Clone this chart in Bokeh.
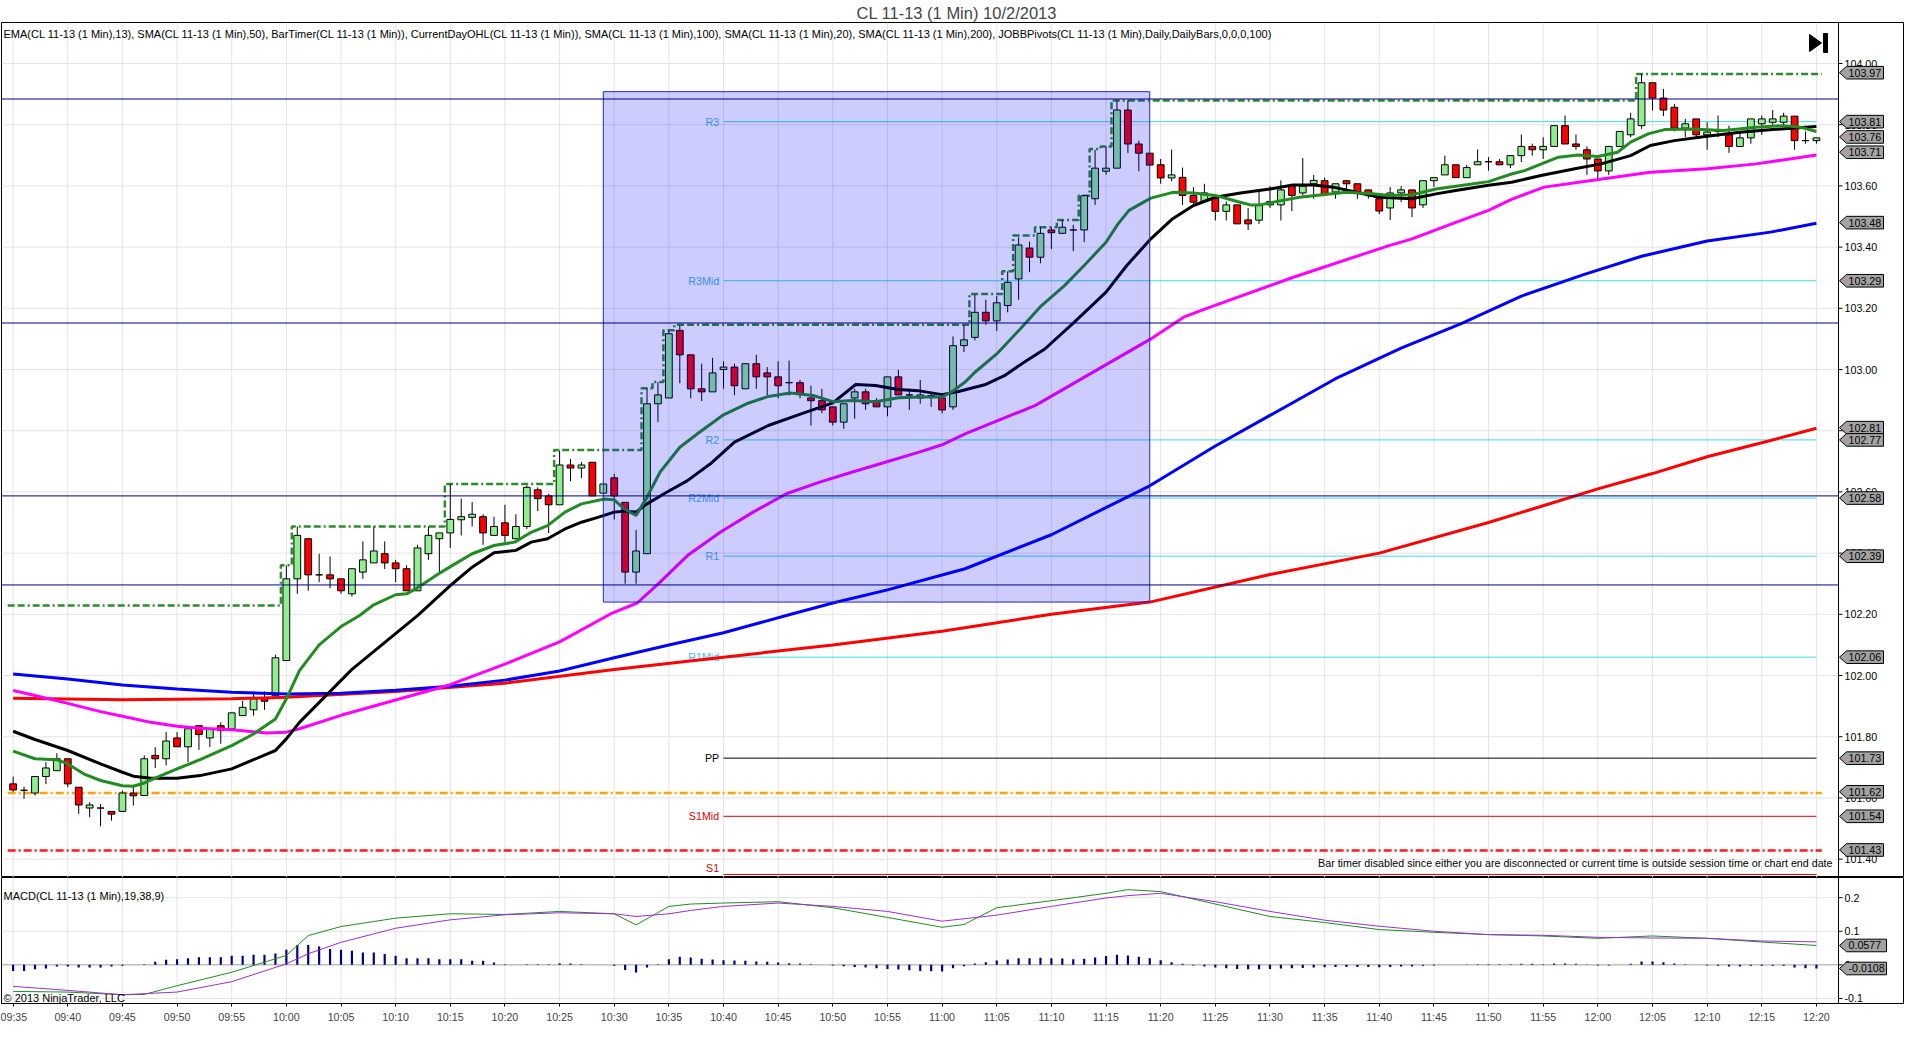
import numpy as np
from bokeh.plotting import figure
from bokeh.layouts import column
from bokeh.models import Range1d, FixedTicker, Label
from bokeh.embed import file_html
from bokeh.resources import INLINE
from bokeh.core.properties import value

FONT = "Liberation Sans"

# ---------------- data ----------------
time_ticks = list(range(0, 166, 5))
time_labels = ["09:35", "09:40", "09:45", "09:50", "09:55", "10:00", "10:05", "10:10", "10:15", "10:20",
               "10:25", "10:30", "10:35", "10:40", "10:45", "10:50", "10:55", "11:00", "11:05", "11:10",
               "11:15", "11:20", "11:25", "11:30", "11:35", "11:40", "11:45", "11:50", "11:55", "12:00",
               "12:05", "12:10", "12:15", "12:20"]

bar_open = [101.646, 101.625, 101.616, 101.670, 101.689, 101.728, 101.635, 101.567, 101.567, 101.556,
            101.556, 101.616, 101.608, 101.739, 101.728, 101.796, 101.767, 101.836, 101.796, 101.836,
            101.826, 101.869, 101.888, 101.924, 101.934, 102.049, 102.316, 102.447, 102.329, 102.329,
            102.316, 102.267, 102.338, 102.368, 102.398, 102.368, 102.349, 102.277, 102.398, 102.447,
            102.466, 102.509, 102.517, 102.519, 102.458, 102.499, 102.447, 102.487, 102.607, 102.587,
            102.558, 102.688, 102.678, 102.697, 102.596, 102.646, 102.566, 102.338, 102.398, 102.888,
            102.907, 103.128, 103.048, 102.937, 102.927, 103.000, 103.008, 102.937, 103.019, 102.989,
            102.976, 102.957, 102.957, 102.907, 102.898, 102.878, 102.828, 102.907, 102.927, 102.898,
            102.878, 102.976, 102.917, 102.907, 102.915, 102.907, 102.878, 103.078, 103.105, 103.187,
            103.159, 103.209, 103.296, 103.397, 103.367, 103.456, 103.445, 103.456, 103.456, 103.558,
            103.648, 103.658, 103.848, 103.737, 103.707, 103.669, 103.626, 103.628, 103.569, 103.549,
            103.560, 103.517, 103.538, 103.489, 103.488, 103.538, 103.538, 103.599, 103.577, 103.607,
            103.617, 103.580, 103.617, 103.607, 103.587, 103.558, 103.528, 103.577, 103.587, 103.538,
            103.617, 103.636, 103.669, 103.627, 103.669, 103.679, 103.679, 103.669, 103.699, 103.729,
            103.718, 103.729, 103.797, 103.737, 103.718, 103.688, 103.649, 103.729, 103.767, 103.797,
            103.937, 103.887, 103.857, 103.789, 103.819, 103.767, 103.778, 103.767, 103.729, 103.757,
            103.803, 103.808, 103.808, 103.828, 103.748, 103.748]
bar_high = [101.670, 101.637, 101.670, 101.717, 101.746, 101.728, 101.635, 101.586, 101.580, 101.556,
            101.624, 101.643, 101.739, 101.766, 101.815, 101.815, 101.836, 101.836, 101.826, 101.847,
            101.878, 101.918, 101.948, 101.948, 102.068, 102.360, 102.487, 102.447, 102.398, 102.389,
            102.316, 102.349, 102.438, 102.487, 102.438, 102.378, 102.360, 102.427, 102.487, 102.466,
            102.626, 102.578, 102.567, 102.527, 102.519, 102.558, 102.527, 102.621, 102.615, 102.594,
            102.735, 102.708, 102.698, 102.697, 102.626, 102.659, 102.566, 102.476, 102.939, 102.959,
            103.128, 103.144, 103.048, 103.019, 103.038, 103.027, 103.019, 103.019, 103.048, 103.008,
            103.027, 103.029, 102.966, 102.947, 102.937, 102.878, 102.888, 102.937, 102.937, 102.907,
            102.976, 102.999, 102.937, 102.966, 102.920, 102.907, 103.108, 103.144, 103.244, 103.228,
            103.240, 103.321, 103.432, 103.418, 103.465, 103.465, 103.489, 103.473, 103.568, 103.718,
            103.729, 103.879, 103.879, 103.748, 103.707, 103.688, 103.719, 103.660, 103.596, 103.607,
            103.560, 103.549, 103.538, 103.528, 103.588, 103.599, 103.618, 103.599, 103.691, 103.636,
            103.627, 103.607, 103.617, 103.607, 103.587, 103.558, 103.596, 103.599, 103.587, 103.617,
            103.627, 103.699, 103.669, 103.669, 103.719, 103.694, 103.688, 103.699, 103.768, 103.738,
            103.759, 103.797, 103.830, 103.768, 103.729, 103.688, 103.729, 103.778, 103.839, 103.966,
            103.937, 103.917, 103.868, 103.819, 103.819, 103.808, 103.830, 103.797, 103.776, 103.819,
            103.830, 103.848, 103.839, 103.828, 103.778, 103.757]
bar_low = [101.620, 101.597, 101.608, 101.645, 101.689, 101.635, 101.548, 101.537, 101.507, 101.526,
           101.556, 101.575, 101.608, 101.698, 101.706, 101.767, 101.717, 101.757, 101.766, 101.777,
           101.826, 101.869, 101.869, 101.888, 101.934, 102.049, 102.267, 102.277, 102.305, 102.285,
           102.267, 102.258, 102.316, 102.368, 102.348, 102.305, 102.277, 102.277, 102.378, 102.338,
           102.417, 102.458, 102.487, 102.427, 102.458, 102.436, 102.447, 102.479, 102.537, 102.466,
           102.558, 102.635, 102.645, 102.587, 102.596, 102.510, 102.300, 102.300, 102.398, 102.828,
           102.907, 102.955, 102.906, 102.897, 102.927, 102.937, 102.916, 102.937, 102.937, 102.916,
           102.906, 102.915, 102.906, 102.817, 102.857, 102.817, 102.806, 102.839, 102.868, 102.878,
           102.847, 102.917, 102.868, 102.888, 102.878, 102.857, 102.868, 103.057, 103.095, 103.146,
           103.126, 103.187, 103.228, 103.318, 103.347, 103.394, 103.445, 103.387, 103.416, 103.538,
           103.637, 103.658, 103.707, 103.648, 103.668, 103.607, 103.615, 103.538, 103.538, 103.549,
           103.487, 103.487, 103.476, 103.456, 103.476, 103.528, 103.487, 103.518, 103.569, 103.558,
           103.571, 103.558, 103.590, 103.558, 103.558, 103.508, 103.488, 103.547, 103.498, 103.528,
           103.597, 103.636, 103.627, 103.627, 103.669, 103.650, 103.669, 103.658, 103.678, 103.699,
           103.688, 103.729, 103.737, 103.718, 103.636, 103.623, 103.636, 103.729, 103.759, 103.786,
           103.846, 103.828, 103.778, 103.759, 103.759, 103.718, 103.759, 103.708, 103.729, 103.738,
           103.767, 103.797, 103.797, 103.718, 103.738, 103.738]
bar_close = [101.626, 101.625, 101.670, 101.698, 101.728, 101.646, 101.577, 101.577, 101.567, 101.547,
             101.616, 101.607, 101.728, 101.728, 101.786, 101.767, 101.826, 101.807, 101.826, 101.820,
             101.878, 101.896, 101.924, 101.916, 102.058, 102.316, 102.458, 102.329, 102.329, 102.316,
             102.277, 102.349, 102.378, 102.407, 102.368, 102.349, 102.277, 102.417, 102.458, 102.466,
             102.510, 102.519, 102.527, 102.466, 102.487, 102.458, 102.487, 102.615, 102.578, 102.558,
             102.688, 102.678, 102.688, 102.587, 102.626, 102.587, 102.338, 102.407, 102.888, 102.917,
             103.117, 103.048, 102.937, 102.927, 102.989, 103.008, 102.947, 103.019, 102.976, 102.976,
             102.947, 102.957, 102.919, 102.898, 102.868, 102.828, 102.888, 102.927, 102.888, 102.878,
             102.976, 102.917, 102.917, 102.917, 102.915, 102.868, 103.078, 103.097, 103.187, 103.159,
             103.218, 103.285, 103.407, 103.367, 103.445, 103.447, 103.465, 103.456, 103.568, 103.658,
             103.658, 103.848, 103.737, 103.707, 103.668, 103.626, 103.636, 103.569, 103.547, 103.577,
             103.517, 103.538, 103.476, 103.476, 103.536, 103.549, 103.587, 103.569, 103.599, 103.618,
             103.571, 103.607, 103.607, 103.580, 103.577, 103.518, 103.577, 103.587, 103.528, 103.617,
             103.627, 103.669, 103.627, 103.660, 103.679, 103.679, 103.669, 103.699, 103.729, 103.718,
             103.729, 103.797, 103.737, 103.729, 103.688, 103.649, 103.729, 103.778, 103.819, 103.937,
             103.887, 103.848, 103.789, 103.803, 103.767, 103.776, 103.778, 103.729, 103.757, 103.819,
             103.819, 103.819, 103.828, 103.748, 103.748, 103.757]

# moving averages, (bar, price) samples
ema13 = [(0, 101.753), (2, 101.728), (4, 101.725), (5, 101.711), (6.5, 101.678), (8, 101.657), (10, 101.640),
         (11, 101.638), (12, 101.649), (13.2, 101.668), (15, 101.695), (17.1, 101.725), (20, 101.771),
         (22, 101.809), (24, 101.858), (25, 101.924), (26.2, 102.016), (28, 102.10), (30, 102.16),
         (31.7, 102.196), (32.9, 102.229), (35, 102.264), (36, 102.267), (37.1, 102.289), (38.9, 102.332),
         (40.2, 102.36), (42, 102.398), (44, 102.425), (45.9, 102.436), (47.4, 102.468), (48.9, 102.49),
         (50.5, 102.534), (52, 102.561), (54.1, 102.577), (55, 102.574), (55.9, 102.545), (57, 102.523),
         (58, 102.583), (59.2, 102.665), (61, 102.746), (62.8, 102.795), (65, 102.852), (67.1, 102.888),
         (69.1, 102.912), (71.1, 102.923), (73.2, 102.915), (75, 102.895), (76.8, 102.899), (78.9, 102.895),
         (81, 102.908), (83.1, 102.910), (85, 102.910), (86, 102.93), (87.1, 102.959), (88, 102.991),
         (90, 103.051), (92, 103.127), (94.1, 103.209), (96.2, 103.274), (98, 103.34), (100, 103.416),
         (101.1, 103.476), (102.1, 103.52), (104.1, 103.56), (106.1, 103.579), (108, 103.577), (110, 103.569),
         (112, 103.549), (113.2, 103.538), (114.1, 103.538), (115.3, 103.547), (117.7, 103.563),
         (119.8, 103.571), (122, 103.579), (124.4, 103.574), (125.9, 103.569), (128, 103.571), (130.2, 103.59),
         (132, 103.599), (135, 103.614), (137.1, 103.639), (138.3, 103.650), (141.4, 103.694), (143.2, 103.701),
         (145, 103.696), (146.8, 103.710), (148, 103.743), (149.6, 103.77), (151.1, 103.784), (153.5, 103.786),
         (156.5, 103.781), (159.5, 103.792), (162, 103.797), (163.5, 103.792), (165, 103.778)]
sma20 = [(0, 101.818), (2, 101.791), (5, 101.755), (8, 101.711), (10, 101.684), (11, 101.671), (12.6, 101.664),
         (15, 101.664), (17.1, 101.673), (20, 101.695), (22, 101.725), (24, 101.755), (25, 101.793),
         (26.2, 101.847), (31, 102.02), (37, 102.196), (40.2, 102.30), (42, 102.354), (44, 102.401), (46, 102.409),
         (47.4, 102.436), (48.9, 102.447), (50.5, 102.479), (52, 102.501), (53.5, 102.517), (55, 102.534),
         (55.9, 102.537), (57, 102.534), (58, 102.561), (59.8, 102.599), (61.7, 102.637), (63.8, 102.692),
         (66, 102.763), (69.1, 102.817), (72.1, 102.855), (75, 102.891), (77.1, 102.951), (78.9, 102.948),
         (81, 102.935), (82.8, 102.931), (85, 102.918), (86.5, 102.928), (88.9, 102.95), (90.7, 102.98),
         (92.5, 103.024), (94.4, 103.067), (97.1, 103.155), (100, 103.253), (101.9, 103.34), (104.1, 103.427),
         (106.1, 103.493), (108, 103.536), (110, 103.563), (112.3, 103.577), (115, 103.59), (117.1, 103.603),
         (119, 103.603), (120.8, 103.596), (122.9, 103.579), (125, 103.563), (128, 103.558), (130.2, 103.574),
         (132, 103.585), (135, 103.602), (137.1, 103.612), (139.8, 103.634), (142.9, 103.656), (145.3, 103.672),
         (148, 103.699), (149.8, 103.732), (152, 103.748), (155, 103.762), (158, 103.775), (161, 103.784),
         (165, 103.794)]
sma50 = [(0, 101.951), (2, 101.935), (5, 101.909), (8, 101.882), (10, 101.867), (12.6, 101.847), (15, 101.834),
         (17.1, 101.828), (20, 101.823), (23.2, 101.812), (25, 101.815), (26.2, 101.826), (30, 101.87),
         (35, 101.92), (40, 101.97), (45, 102.037), (50, 102.11), (54.7, 102.202), (57.1, 102.237),
         (59.2, 102.305), (61.7, 102.392), (64.7, 102.468), (67.7, 102.534), (70.75, 102.594), (73.8, 102.632),
         (76.8, 102.665), (79.8, 102.697), (82.9, 102.730), (85, 102.754), (87.1, 102.790), (93.5, 102.882),
         (104.1, 103.100), (107.1, 103.171), (108.9, 103.196), (117, 103.30), (125.9, 103.405), (128, 103.427),
         (132, 103.481), (135, 103.52), (137.1, 103.556), (140.1, 103.596), (144.4, 103.618), (149.8, 103.645),
         (155, 103.656), (159.5, 103.672), (165, 103.701)]
sma100 = [(0, 102.005), (5, 101.989), (10, 101.969), (15, 101.956), (20, 101.945), (25, 101.940), (30, 101.942),
          (35, 101.952), (40, 101.965), (45, 101.985), (50, 102.015), (55, 102.058), (60, 102.10), (65, 102.14),
          (70.75, 102.196), (75, 102.237), (80, 102.28), (87.1, 102.349), (95, 102.46), (104, 102.62),
          (110, 102.75), (115, 102.85), (121, 102.97), (127, 103.07), (132.5, 103.15), (138, 103.24),
          (143.7, 103.31), (149, 103.37), (155, 103.42), (160.8, 103.449), (165, 103.478)]
sma200 = [(0, 101.926), (10, 101.921), (20, 101.924), (25, 101.929), (35, 101.948), (45, 101.975), (55, 102.02),
          (65, 102.06), (75, 102.10), (85, 102.145), (95, 102.20), (104, 102.24), (115, 102.33), (125, 102.40),
          (135, 102.50), (140, 102.555), (145, 102.61), (150, 102.66), (155, 102.715), (160.8, 102.768),
          (165, 102.808)]

# CurrentDayOHL: running day high (step starts) and the open / low levels
day_high_x = [-0.5, 24.5, 25.5, 39.5, 49.5, 57.5, 58.5, 59.5, 60.5, 87.5, 90.5, 91.5, 93.5, 95.5, 97.5,
              98.5, 99.5, 100.5, 148.5, 165.5]
day_high_y = [102.229, 102.36, 102.487, 102.626, 102.737, 102.939, 102.959, 103.128, 103.146, 103.247,
              103.321, 103.438, 103.465, 103.489, 103.568, 103.721, 103.729, 103.879, 103.966, 103.966]
day_open = 101.616
day_low = 101.428

# JOBB pivots
pivot_names = ["R3", "R3Mid", "R2", "R2Mid", "R1", "R1Mid", "PP", "S1Mid", "S1"]
pivot_levels = [103.81, 103.29, 102.77, 102.58, 102.39, 102.06, 101.73, 101.54, 101.35]
pivot_colors = ["#3CDCE6"] * 6 + ["black", "#DD0000", "#DD0000"]
pivot_text_colors = ["#3FB4FF"] * 6 + ["black", "#DD0000", "#DD0000"]

# drawing objects: horizontal lines and the shaded rectangle
hlines = [103.884, 103.152, 102.587, 102.296]
rect_bars = [54, 104]
rect_prices = [102.24, 103.908]

# right-axis price markers
price_markers = [103.97, 103.81, 103.76, 103.71, 103.48, 103.29, 102.81, 102.77, 102.58, 102.39,
                 102.06, 101.73, 101.62, 101.54, 101.43]
price_ticks = [101.4, 101.6, 101.8, 102.0, 102.2, 102.4, 102.6, 102.8, 103.0, 103.2, 103.4, 103.6, 103.8, 104.0]
price_tick_labels = ["101.40", "101.60", "101.80", "102.00", "102.20", "102.40", "102.60", "102.80",
                     "103.00", "103.20", "103.40", "103.60", "103.80", "104.00"]

# MACD(19,38,9)
macd_line = [(0, -0.079), (5, -0.081), (10, -0.089), (12, -0.088), (15, -0.062), (20, -0.022), (25, 0.028),
             (27, 0.087), (30, 0.114), (35, 0.139), (40, 0.152), (45, 0.150), (50, 0.159), (55, 0.152),
             (57, 0.119), (60, 0.174), (62, 0.181), (65, 0.184), (70, 0.188), (75, 0.17), (80, 0.141),
             (85, 0.112), (87, 0.12), (90, 0.170), (95, 0.191), (100, 0.213), (102, 0.224), (105, 0.218),
             (110, 0.181), (115, 0.144), (120, 0.126), (125, 0.105), (130, 0.097), (135, 0.09), (140, 0.086),
             (145, 0.079), (150, 0.086), (155, 0.079), (160, 0.068), (165, 0.0577)]
macd_avg = [(0, -0.064), (5, -0.076), (10, -0.089), (15, -0.081), (20, -0.050), (25, 0.003), (27, 0.033),
            (30, 0.067), (35, 0.109), (40, 0.134), (45, 0.149), (50, 0.155), (55, 0.152), (57, 0.144),
            (60, 0.152), (62, 0.162), (65, 0.174), (70, 0.184), (75, 0.174), (80, 0.159), (85, 0.130),
            (90, 0.148), (95, 0.174), (100, 0.199), (102, 0.206), (105, 0.213), (110, 0.188), (115, 0.159),
            (120, 0.133), (125, 0.115), (130, 0.10), (135, 0.09), (140, 0.088), (145, 0.082), (150, 0.080),
            (155, 0.079), (160, 0.071), (165, 0.0685)]
macd_diff = [-0.018, -0.018, -0.013, -0.011, -0.005, -0.005, -0.008, -0.008, -0.008, -0.005,
             -0.003, 0.0, 0.002, 0.009, 0.015, 0.017, 0.020, 0.023, 0.023, 0.023,
             0.027, 0.027, 0.030, 0.030, 0.034, 0.045, 0.059, 0.059, 0.055, 0.047,
             0.045, 0.042, 0.037, 0.037, 0.032, 0.027, 0.020, 0.020, 0.020, 0.017,
             0.017, 0.017, 0.012, 0.012, 0.007, 0.002, 0.0, 0.002, 0.002, 0.002,
             0.005, 0.004, 0.002, 0.0, 0.0, -0.003, -0.015, -0.023, -0.008, 0.002,
             0.017, 0.024, 0.022, 0.018, 0.016, 0.014, 0.013, 0.012, 0.010, 0.009,
             0.007, 0.005, 0.004, 0.002, 0.0, -0.002, -0.004, -0.006, -0.008, -0.010,
             -0.012, -0.014, -0.016, -0.018, -0.019, -0.020, -0.010, -0.004, 0.004, 0.008,
             0.013, 0.016, 0.020, 0.020, 0.021, 0.020, 0.019, 0.017, 0.018, 0.022,
             0.026, 0.030, 0.028, 0.024, 0.020, 0.014, 0.008, 0.003, -0.002, -0.005,
             -0.008, -0.010, -0.012, -0.013, -0.013, -0.012, -0.011, -0.010, -0.009, -0.008,
             -0.007, -0.006, -0.006, -0.006, -0.006, -0.007, -0.006, -0.005, -0.005, -0.003,
             -0.002, 0.0, 0.0, 0.001, 0.002, 0.002, 0.002, 0.002, 0.003, 0.003,
             0.002, 0.004, 0.004, 0.003, 0.001, -0.002, -0.002, 0.0, 0.003, 0.010,
             0.010, 0.008, 0.004, 0.002, 0.0, -0.002, -0.003, -0.005, -0.005, -0.003,
             -0.003, -0.003, -0.003, -0.008, -0.010, -0.0108]
macd_markers = [0.0577, -0.0108]
macd_ticks = [-0.1, 0.0, 0.1, 0.2]
macd_tick_labels = ["-0.1", "0", "0.1", "0.2"]

indicator_text = ("EMA(CL 11-13 (1 Min),13), SMA(CL 11-13 (1 Min),50), BarTimer(CL 11-13 (1 Min)), "
                  "CurrentDayOHL(CL 11-13 (1 Min)), SMA(CL 11-13 (1 Min),100), SMA(CL 11-13 (1 Min),20), "
                  "SMA(CL 11-13 (1 Min),200), JOBBPivots(CL 11-13 (1 Min),Daily,DailyBars,0,0,0,100)")

# ---------------- layout constants ----------------
W = 1904
FWT = W - 2                      # frame width (data area + right price-axis strip)
PLOT_W = 1837                    # width of the data area in px
X0, AX = -1.064, 167.02          # bar range of the data area; AX = position of the price axis line
PXB = PLOT_W / (AX - X0)         # px per bar
X1 = X0 + FWT / PXB
H1_TOP, H1_FRAME = 22, 855
H2_FRAME, H2_BOT = 126, 36
Y1 = (101.340, 104.134)
Y2 = (-0.115, 0.260)
PPU1 = H1_FRAME / (Y1[1] - Y1[0])
PPU2 = H2_FRAME / (Y2[1] - Y2[0])
xr = Range1d(X0, X1)
GRID = "#E4E4E4"
TXT = "10.7px"


def px(n):
    return n / PXB


def grids(fig, ylo, yhi, yticks):
    fig.segment(x0=time_ticks, x1=time_ticks, y0=[ylo] * len(time_ticks), y1=[yhi] * len(time_ticks),
                line_color=GRID, line_width=1, level="underlay")
    fig.segment(x0=[X0] * len(yticks), x1=[AX] * len(yticks), y0=yticks, y1=yticks,
                line_color=GRID, line_width=1, level="underlay")


def price_axis(fig, ticks, labels, ylo, yhi):
    n = len(ticks)
    fig.segment(x0=[AX], x1=[AX], y0=[ylo], y1=[yhi], line_color="black", line_width=1)
    fig.segment(x0=[AX] * n, x1=[AX + px(4)] * n, y0=ticks, y1=ticks, line_color="black", line_width=1)
    fig.text(x=[AX + px(6)] * n, y=ticks, text=labels, text_font=value(FONT), text_font_size=TXT,
             text_align="left", text_baseline="middle", text_color="black")


def markers(fig, vals, texts, ppu, box_w):
    hh = 6.3 / ppu
    xs = [[AX + px(1), AX + px(8), AX + px(8 + box_w), AX + px(8 + box_w), AX + px(8)] for _ in vals]
    ys = [[v, v + hh, v + hh, v - hh, v - hh] for v in vals]
    fig.patches(xs, ys, fill_color="#A3A3A3", line_color="black", line_width=1)
    fig.text(x=[AX + px(10)] * len(vals), y=vals, text=texts, text_font=value(FONT), text_font_size=TXT,
             text_align="left", text_baseline="middle", text_color="black")


# ---------------- price panel ----------------
p1 = figure(width=W, height=H1_FRAME + H1_TOP, x_range=xr, y_range=Range1d(*Y1),
            x_axis_location=None, y_axis_location=None, toolbar_location=None,
            output_backend="svg", min_border_left=1, min_border_right=1,
            min_border_top=H1_TOP, min_border_bottom=0,
            title="CL 11-13 (1 Min)  10/2/2013")
p1.title.align = "left"
p1.title.offset = 855
p1.title.text_font = FONT
p1.title.text_font_size = "16.5px"
p1.title.text_font_style = "normal"
p1.title.standoff = 2
p1.outline_line_color = "black"
p1.grid.visible = False
grids(p1, Y1[0], Y1[1], price_ticks)

# pivots
npv = len(pivot_levels)
p1.segment(x0=[65] * npv, x1=[165] * npv, y0=pivot_levels, y1=pivot_levels, line_color=pivot_colors, line_width=1)
p1.text(x=[64.6] * (npv - 1), y=pivot_levels[:-1], text=pivot_names[:-1], text_color=pivot_text_colors[:-1],
        text_font=value(FONT), text_font_size=TXT, text_align="right", text_baseline="middle")
p1.text(x=[64.6], y=pivot_levels[-1:], text=pivot_names[-1:], text_color=pivot_text_colors[-1:],
        text_font=value(FONT), text_font_size=TXT, text_align="right", text_baseline="bottom")

# current day open / low / high
p1.line([-0.5, 165.5], [day_open, day_open], line_color="#FFA500", line_width=2.5, line_dash="8 3 2 3")
p1.line([-0.5, 165.5], [day_low, day_low], line_color="#FF1A1A", line_width=2.5, line_dash="8 3 2 3")
p1.step(day_high_x, day_high_y, mode="after", line_color="#2E8B2E", line_width=2.5, line_dash="7 3 7 3 2 3")

# candles
bars = np.arange(len(bar_open))
o = np.array(bar_open)
c = np.array(bar_close)
body_colors = ["#90EE90" if u else "#FF0000" for u in (c >= o)]
p1.segment(x0=bars, y0=bar_low, x1=bars, y1=bar_high, line_color="black", line_width=1)
p1.vbar(x=bars, width=0.62, top=np.maximum(o, c), bottom=np.minimum(o, c),
        fill_color=body_colors, line_color="black", line_width=1)

# moving averages
for series, col in [(sma200, "#FF0000"), (sma100, "#0000FF"), (sma50, "#FF00FF"),
                    (sma20, "#000000"), (ema13, "#228B22")]:
    xs, ys = zip(*series)
    p1.line(list(xs), list(ys), line_color=col, line_width=3)

# shaded rectangle drawing object
p1.quad(left=[rect_bars[0]], right=[rect_bars[1]], bottom=[rect_prices[0]], top=[rect_prices[1]],
        fill_color="#0000FF", fill_alpha=0.2, line_color="#2828B8", line_width=1)

# horizontal line drawing objects
p1.segment(x0=[X0] * len(hlines), x1=[AX] * len(hlines), y0=hlines, y1=hlines, line_color="#000080", line_width=1)

# texts
p1.add_layout(Label(x=2, y=104.098, x_units="screen", y_units="data", text=indicator_text,
                    text_font=FONT, text_font_size="11px", text_baseline="middle", text_color="black"))
p1.add_layout(Label(x=AX - px(6), y=101.389, x_units="data", y_units="data",
                    text="Bar timer disabled since either you are disconnected or current time is outside session time or chart end date",
                    text_font=FONT, text_font_size=TXT, text_baseline="middle", text_align="right",
                    text_color="black"))
# "go to end" icon
p1.patch([AX - px(29), AX - px(29), AX - px(17)], [104.095, 104.039, 104.067], fill_color="black",
         line_color="black")
p1.quad(left=[AX - px(15)], right=[AX - px(11)], bottom=[104.036], top=[104.098], fill_color="black",
        line_color="black")

price_axis(p1, price_ticks, price_tick_labels, Y1[0], Y1[1])
markers(p1, price_markers, [f"{v:.2f}" for v in price_markers], PPU1, 37)

# ---------------- MACD panel ----------------
p2 = figure(width=W, height=H2_FRAME + H2_BOT, x_range=xr, y_range=Range1d(*Y2),
            y_axis_location=None, toolbar_location=None, output_backend="svg",
            min_border_left=1, min_border_right=1, min_border_top=0, min_border_bottom=H2_BOT)
p2.outline_line_color = "black"
p2.grid.visible = False
xa = p2.xaxis[0]
xa.ticker = FixedTicker(ticks=time_ticks)
xa.major_label_overrides = {t: s for t, s in zip(time_ticks, time_labels)}
xa.bounds = (X0, AX)
xa.major_tick_out = 3
xa.major_tick_in = 0
xa.minor_tick_line_color = None
xa.major_label_standoff = 4
xa.major_label_text_font = FONT
xa.major_label_text_font_size = TXT
xa.axis_line_color = "black"
grids(p2, Y2[0], Y2[1], [-0.1, 0.1, 0.2])
p2.segment(x0=[X0], x1=[AX], y0=[0], y1=[0], line_color="#A0A0A0", line_width=1, level="underlay")

p2.vbar(x=bars, top=macd_diff, bottom=0, width=0.2, fill_color="#000080", line_color=None)
mx, my = zip(*macd_line)
p2.line(list(mx), list(my), line_color="#228B22", line_width=1)
ax_, ay_ = zip(*macd_avg)
p2.line(list(ax_), list(ay_), line_color="#9932CC", line_width=1)

p2.add_layout(Label(x=2, y=0.206, x_units="screen", y_units="data", text="MACD(CL 11-13 (1 Min),19,38,9)",
                    text_font=FONT, text_font_size="11px", text_baseline="middle", text_color="black"))
p2.add_layout(Label(x=2, y=-0.100, x_units="screen", y_units="data", text="\u00a9 2013 NinjaTrader, LLC",
                    text_font=FONT, text_font_size="11px", text_baseline="middle", text_color="black"))

price_axis(p2, macd_ticks, macd_tick_labels, Y2[0], Y2[1])
markers(p2, macd_markers, [f"{v:.4f}" for v in macd_markers], PPU2, 40)

layout = column(p1, p2, spacing=0)
open("out.html", "w").write(file_html(layout, INLINE))
